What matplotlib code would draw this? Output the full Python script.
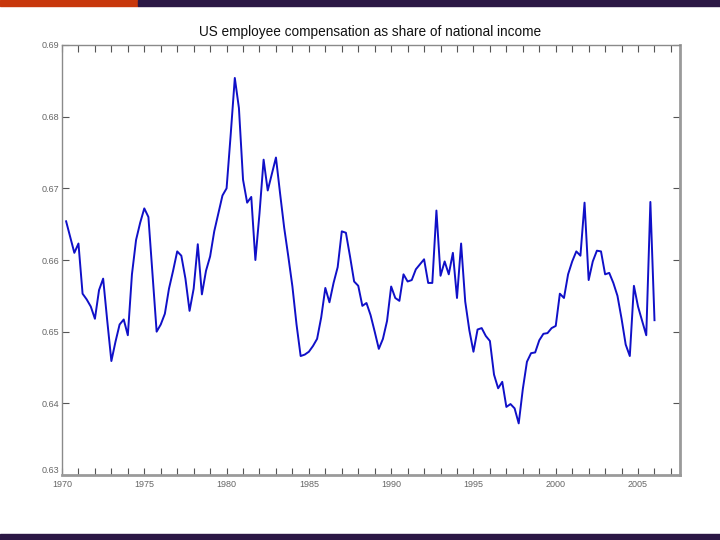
import numpy as np
import matplotlib
matplotlib.use("Agg")
import matplotlib.pyplot as plt
from matplotlib.patches import Rectangle
from matplotlib.ticker import FuncFormatter, MultipleLocator

title = "US employee compensation as share of national income"
start_quarter = 1970.25  # 1970Q1
share = [
    0.6654, 0.6632, 0.6610, 0.6623, 0.6553, 0.6545, 0.6535, 0.6518,
    0.6558, 0.6574, 0.6515, 0.6459, 0.6486, 0.6510, 0.6517, 0.6495,
    0.6580, 0.6628, 0.6652, 0.6672, 0.6660, 0.6580, 0.6500, 0.6510,
    0.6525, 0.6560, 0.6585, 0.6612, 0.6606, 0.6574, 0.6529, 0.6560,
    0.6622, 0.6552, 0.6585, 0.6605, 0.6640, 0.6665, 0.6690, 0.6700,
    0.6775, 0.6854, 0.6812, 0.6712, 0.6680, 0.6688, 0.6600, 0.6665,
    0.6740, 0.6697, 0.6720, 0.6743, 0.6693, 0.6645, 0.6605, 0.6563,
    0.6510, 0.6466, 0.6468, 0.6472, 0.6480, 0.6490, 0.6520, 0.6561,
    0.6541, 0.6568, 0.6590, 0.6640, 0.6638, 0.6605, 0.6570, 0.6564,
    0.6536, 0.6540, 0.6523, 0.6500, 0.6476, 0.6490, 0.6515, 0.6563,
    0.6547, 0.6543, 0.6580, 0.6570, 0.6572, 0.6587, 0.6594, 0.6601,
    0.6568, 0.6568, 0.6669, 0.6578, 0.6598, 0.6580, 0.6610, 0.6547,
    0.6623, 0.6542, 0.6502, 0.6472, 0.6503, 0.6505, 0.6494, 0.6487,
    0.6440, 0.6421, 0.6430, 0.6395, 0.6399, 0.6393, 0.6372, 0.6420,
    0.6458, 0.6470, 0.6471, 0.6488, 0.6497, 0.6498, 0.6505, 0.6508,
    0.6553, 0.6547, 0.6580, 0.6598, 0.6612, 0.6606, 0.6680, 0.6572,
    0.6598, 0.6613, 0.6612, 0.6580, 0.6582, 0.6568, 0.6550, 0.6518,
    0.6482, 0.6466, 0.6564, 0.6535, 0.6515, 0.6495, 0.6681, 0.6516,
]
y_ticks = [0.63, 0.64, 0.65, 0.66, 0.67, 0.68, 0.69]
x_label_years = [1970, 1975, 1980, 1985, 1990, 1995, 2000, 2005]

t = start_quarter + 0.25 * np.arange(len(share))

fam = ["Liberation Sans Narrow", "Liberation Sans", "DejaVu Sans"]

fig = plt.figure(figsize=(7.2, 5.4), dpi=100)
fig.patch.set_facecolor("white")

# slide decoration bars
fig.patches.append(Rectangle((0, 1 - 6/540), 138/720, 6/540, transform=fig.transFigure,
                             color="#c8380c", zorder=0))
fig.patches.append(Rectangle((138/720, 1 - 6/540), 1 - 138/720, 6/540, transform=fig.transFigure,
                             color="#2c1845", zorder=0))
fig.patches.append(Rectangle((0, 0), 1, 6/540, transform=fig.transFigure,
                             color="#2c1845", zorder=0))

ax = fig.add_axes([62/720, 1 - 475/540, (680 - 62)/720, (475 - 45)/540])
ax.plot(t, share, color="#1010c8", lw=1.4)

ax.set_xlim(1970, 2007.55)
ax.set_ylim(0.63, 0.69)
ax.set_yticks(y_ticks)
ax.yaxis.set_major_formatter(FuncFormatter(lambda v, p: f"{v:.2f}"))
ax.xaxis.set_major_locator(MultipleLocator(1))
ax.xaxis.set_major_formatter(FuncFormatter(
    lambda v, p: str(int(round(v))) if int(round(v)) in x_label_years else ""))

ax.tick_params(axis="both", direction="in", length=5, width=0.8, color="#555555",
               top=True, right=True, labelsize=6.5, labelcolor="#666666")
ax.tick_params(axis="x", pad=3.5)
ax.tick_params(axis="y", pad=2)
for lab in ax.get_xticklabels() + ax.get_yticklabels():
    lab.set_family(fam)
# lift the lowest y label a hair so it clears the first year label
ax.get_yticklabels()[0].set_va("bottom")

for side in ["left", "top"]:
    ax.spines[side].set_color("#8a8a8a")
    ax.spines[side].set_linewidth(1.0)
for side in ["right", "bottom"]:
    ax.spines[side].set_color("#9a9a9a")
    ax.spines[side].set_linewidth(2.0)

fig.text(370/720, 1 - 32/540, title, ha="center", va="center", fontsize=9.8,
         family=fam, color="#111111")

fig.savefig("out.png", dpi=100)
